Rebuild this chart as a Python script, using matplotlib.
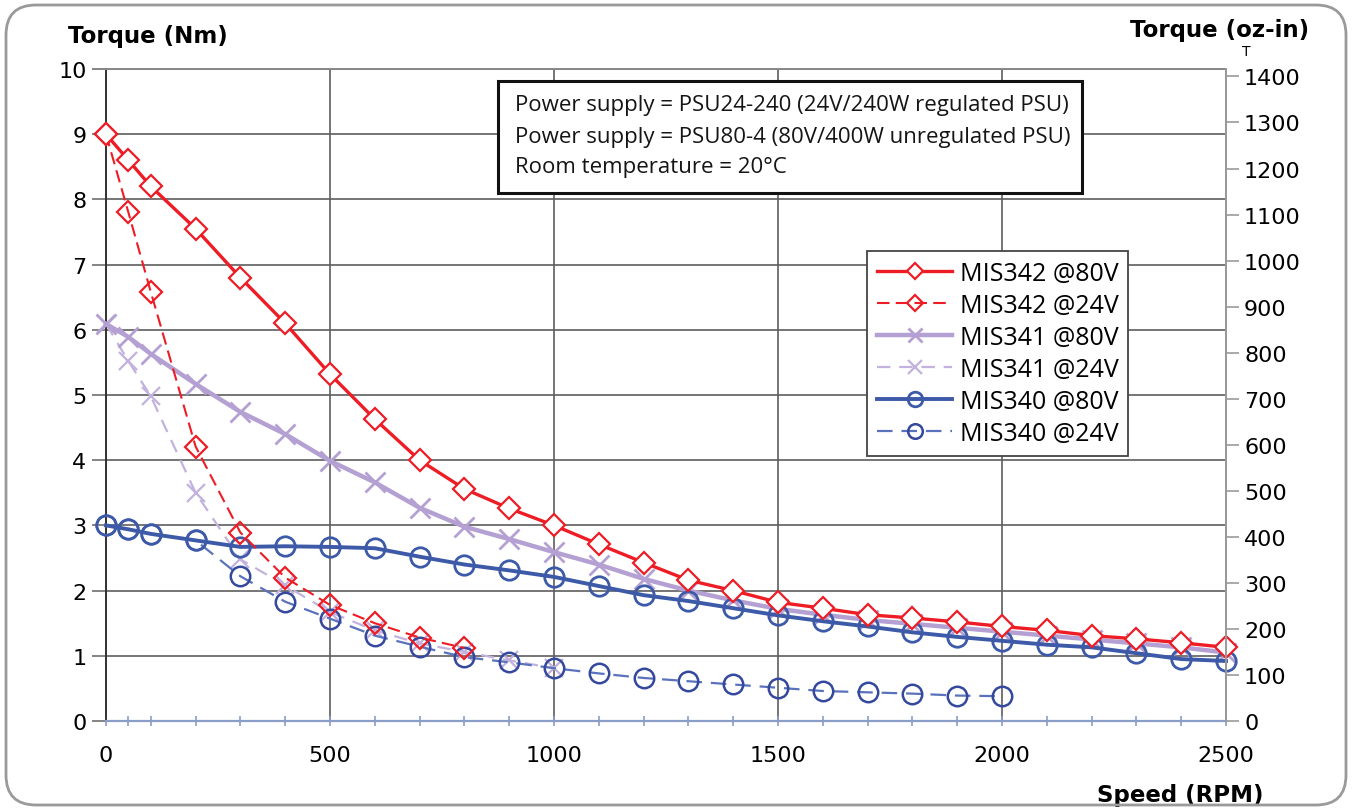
import matplotlib
matplotlib.use("Agg")
import matplotlib.pyplot as plt
from matplotlib.patches import FancyBboxPatch, Rectangle
from matplotlib.transforms import IdentityTransform

# speeds (RPM) and torque (Nm)
speed_80 = [0, 50, 100, 200, 300, 400, 500, 600, 700, 800, 900, 1000, 1100, 1200,
            1300, 1400, 1500, 1600, 1700, 1800, 1900, 2000, 2100, 2200, 2300, 2400, 2500]
mis342_80 = [9.0, 8.6, 8.2, 7.55, 6.8, 6.1, 5.32, 4.63, 4.0, 3.56, 3.26, 3.0, 2.71, 2.43,
             2.16, 2.0, 1.82, 1.73, 1.63, 1.58, 1.52, 1.45, 1.39, 1.31, 1.26, 1.2, 1.13]
mis341_80 = [6.09, 5.89, 5.63, 5.17, 4.74, 4.40, 3.99, 3.66, 3.27, 2.98, 2.79, 2.59, 2.40, 2.18,
             2.0, 1.85, 1.72, 1.63, 1.55, 1.49, 1.43, 1.37, 1.31, 1.25, 1.19, 1.13, 1.05]
mis340_80 = [3.0, 2.94, 2.87, 2.77, 2.67, 2.68, 2.67, 2.65, 2.52, 2.40, 2.31, 2.21, 2.07, 1.93,
             1.84, 1.73, 1.62, 1.53, 1.45, 1.36, 1.29, 1.23, 1.17, 1.13, 1.04, 0.95, 0.92]

speed_342_24 = [0, 50, 100, 200, 300, 400, 500, 600, 700, 800]
mis342_24 = [9.0, 7.8, 6.58, 4.21, 2.89, 2.2, 1.78, 1.5, 1.28, 1.12]

speed_341_24 = [0, 50, 100, 200, 300, 400, 500, 600, 700, 800, 900, 1000]
mis341_24 = [6.09, 5.52, 4.98, 3.5, 2.48, 2.08, 1.67, 1.39, 1.19, 1.06, 0.93, 0.81]

speed_340_24 = [0, 50, 100, 200, 300, 400, 500, 600, 700, 800, 900, 1000, 1100, 1200,
                1300, 1400, 1500, 1600, 1700, 1800, 1900, 2000]
mis340_24 = [3.0, 2.94, 2.87, 2.77, 2.22, 1.83, 1.57, 1.31, 1.14, 0.98, 0.90, 0.81, 0.73, 0.66,
             0.61, 0.56, 0.51, 0.46, 0.44, 0.42, 0.39, 0.38]

notes = ["Power supply = PSU24-240 (24V/240W regulated PSU)",
         "Power supply = PSU80-4 (80V/400W unregulated PSU)",
         "Room temperature = 20°C"]

NM_TO_OZIN = 141.612

RED = "#ee1c25"
PURPLE = "#b4a0d2"
PURPLE_L = "#c2b2dd"
BLUE = "#3d5aa8"
BLUE_L = "#5a72bc"

W, H = 1352, 812
fig = plt.figure(figsize=(W / 100, H / 100), dpi=100)
ax = fig.add_axes([106 / W, 1 - 722 / H, 1120 / W, 652 / H])

ax.plot(speed_80, mis342_80, color=RED, lw=2.4, marker="D", ms=11, mfc="white",
        mec=RED, mew=1.6, label="MIS342 @80V", zorder=6, clip_on=False)
ax.plot(speed_342_24, mis342_24, color=RED, lw=1.5, ls=(0, (6, 3)), marker="D", ms=11,
        mfc="none", mec=RED, mew=1.6, label="MIS342 @24V", zorder=5, clip_on=False)
ax.plot(speed_80, mis341_80, color=PURPLE, lw=3.2, marker="x", ms=14, mec=PURPLE,
        mew=2.0, label="MIS341 @80V", zorder=4, clip_on=False)
ax.plot(speed_341_24, mis341_24, color=PURPLE_L, lw=1.6, ls=(0, (6, 4)), marker="x", ms=13,
        mec=PURPLE_L, mew=1.6, label="MIS341 @24V", zorder=3, clip_on=False)
ax.plot(speed_80, mis340_80, color=BLUE, lw=2.8, marker="o", ms=14, mfc="none",
        mec=BLUE, mew=2.0, label="MIS340 @80V", zorder=4, clip_on=False)
ax.plot(speed_340_24, mis340_24, color=BLUE_L, lw=1.6, ls=(0, (7, 4)), marker="o", ms=14,
        mfc="none", mec="#34489e", mew=1.8, label="MIS340 @24V", zorder=3, clip_on=False)

ax.set_xlim(0, 2500)
ax.set_ylim(0, 10)
ax.set_xticks([0, 500, 1000, 1500, 2000, 2500])
ax.set_xticks(speed_80, minor=True)
ax.set_yticks(range(0, 11))
ax.grid(True, which="major", color="#5e5e5e", lw=1.2)
ax.set_axisbelow(True)

ax.tick_params(axis="x", which="both", direction="inout", length=7, width=1.2,
               color="#8a9cc8", labelsize=16, pad=14)
ax.tick_params(axis="y", direction="out", length=10, width=1.2, color="#707070",
               labelsize=16, pad=4)
for lab in ax.get_xticklabels() + ax.get_yticklabels():
    lab.set_fontfamily("DejaVu Sans")

ax.spines["bottom"].set_color("#8a9cc8")
ax.spines["bottom"].set_linewidth(1.6)
ax.spines["left"].set_color("#333333")
ax.spines["left"].set_linewidth(1.4)
ax.spines["top"].set_color("#888888")
ax.spines["top"].set_linewidth(1.4)
ax.spines["right"].set_color("#999999")
ax.spines["right"].set_linewidth(1.4)

ax2 = ax.twinx()
ax2.set_ylim(0, 10 * NM_TO_OZIN)
ax2.set_yticks(range(0, 1401, 100))
ax2.tick_params(axis="y", direction="out", length=9, width=1.2, color="#999999",
                labelsize=16, pad=4)
for s in ["top", "left", "bottom"]:
    ax2.spines[s].set_visible(False)
ax2.spines["right"].set_color("#999999")
ax2.spines["right"].set_linewidth(1.4)

handles, labels = ax.get_legend_handles_labels()
leg = ax2.legend(handles, labels, loc="upper left", bbox_to_anchor=(0.6795, 0.7209),
                 borderaxespad=0, fancybox=False, framealpha=1, edgecolor="#444444",
                 prop={"family": "Open Sans", "size": 18}, handlelength=3.0,
                 handletextpad=0.3, labelspacing=0.28, borderpad=0.4, markerscale=0.75)
leg.get_frame().set_linewidth(1.3)

# axis titles
fig.text(148 / W, 1 - 37 / H, "Torque (Nm)", ha="center", va="center",
         fontsize=16.5, fontweight="bold", family="DejaVu Sans")
fig.text(1220 / W, 1 - 30 / H, "Torque (oz-in)", ha="center", va="center",
         fontsize=16.5, fontweight="bold", family="DejaVu Sans")
fig.text(1246 / W, 1 - 52 / H, "T", ha="center", va="center",
         fontsize=10, family="DejaVu Sans")
fig.text(1180 / W, 1 - 796 / H, "Speed (RPM)", ha="center", va="center",
         fontsize=16.5, fontweight="bold", family="DejaVu Sans")

# info box
fig.add_artist(Rectangle((498 / W, 1 - 194 / H), 584 / W, 112 / H, transform=fig.transFigure,
                         facecolor="white", edgecolor="#111111", lw=2.2, zorder=5))
for i, line in enumerate(notes):
    fig.text(515 / W, 1 - (106 + 31 * i) / H, line, ha="left", va="center",
             fontsize=16, family="Open Sans", color="#151515", zorder=6)

# outer rounded border
fig.add_artist(FancyBboxPatch((6, 6), 1340, 800, boxstyle="round,pad=0,rounding_size=30",
                              transform=IdentityTransform(), facecolor="none",
                              edgecolor="#9a9a9a", lw=2.0, zorder=10))

fig.savefig("out.png", dpi=100)
